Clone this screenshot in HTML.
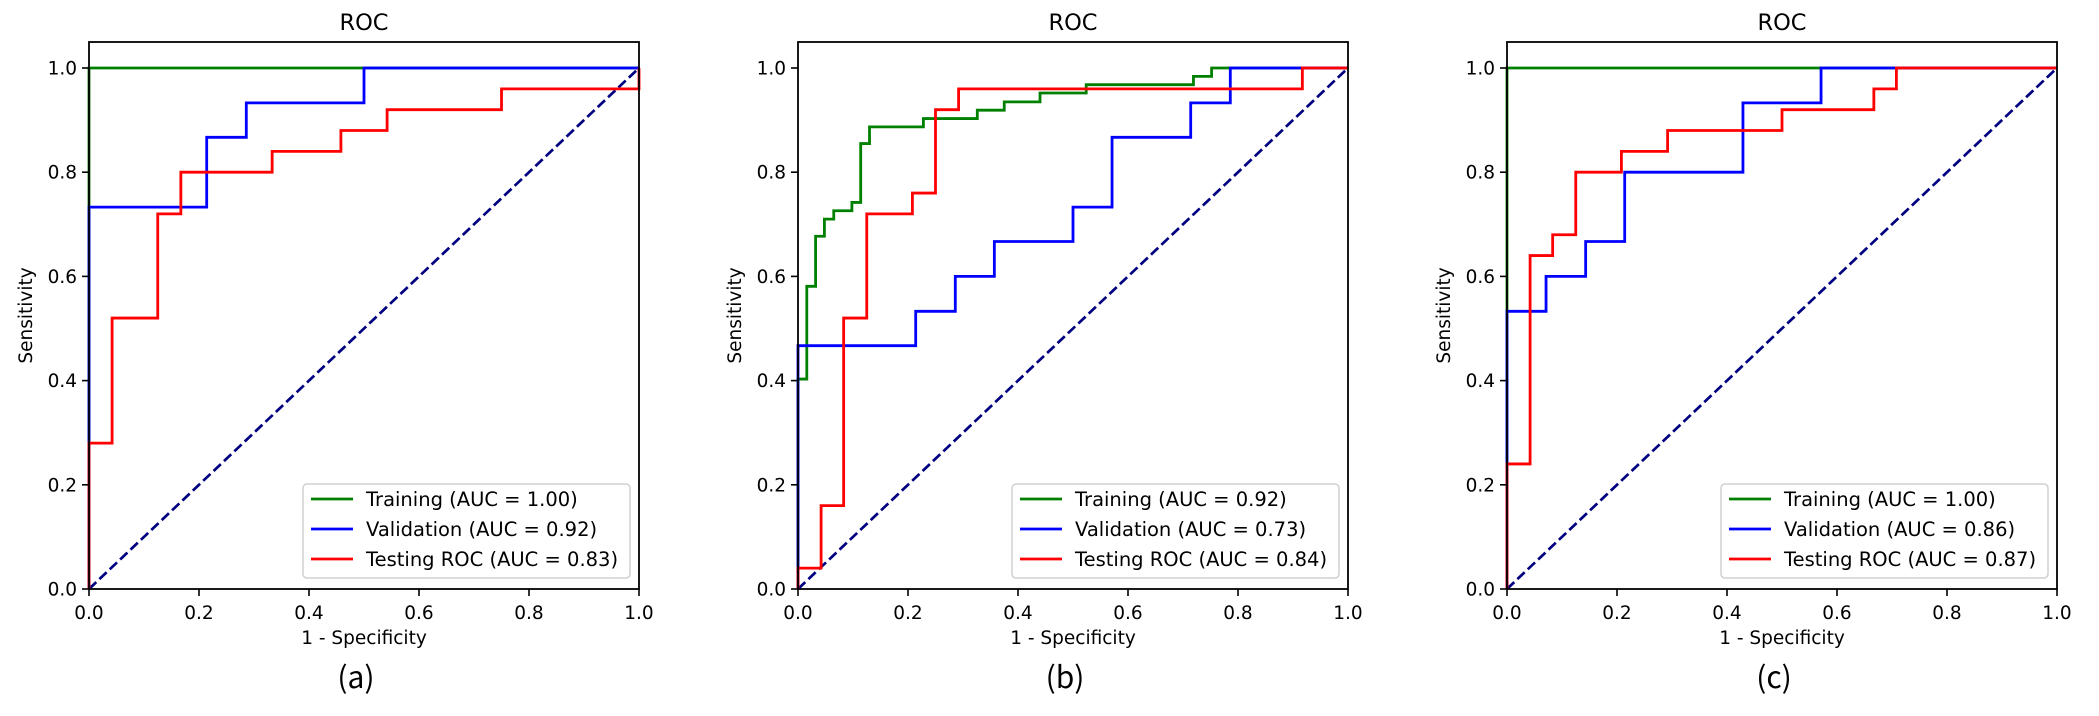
<!DOCTYPE html>
<html><head><meta charset="utf-8"><style>
html,body{margin:0;padding:0;background:#fff;width:2099px;height:716px;overflow:hidden}
svg text{font-family:"DejaVu Sans","Liberation Sans",sans-serif;fill:#000}
</style></head><body>
<svg id="fig" width="2099" height="716" viewBox="0 0 2099 716" xmlns="http://www.w3.org/2000/svg"></svg>
<script>
// ---- data ----
const panelLabels = ["(a)", "(b)", "(c)"];
const tickValues = [0, 0.2, 0.4, 0.6, 0.8, 1.0];
const tickLabels = ["0.0", "0.2", "0.4", "0.6", "0.8", "1.0"];
const seriesNames = ["Training", "Validation", "Testing ROC"];
const aucA = ["1.00", "0.92", "0.83"];
const aucB = ["0.92", "0.73", "0.84"];
const aucC = ["1.00", "0.86", "0.87"];
// panel (a)
const aTrainFpr = [0, 0, 1];
const aTrainTpr = [0, 1, 1];
const aValFpr = [0, 0, 0.214, 0.214, 0.286, 0.286, 0.5, 0.5, 1];
const aValTpr = [0, 0.733, 0.733, 0.867, 0.867, 0.933, 0.933, 1, 1];
const aTestFpr = [0, 0, 0.042, 0.042, 0.125, 0.125, 0.167, 0.167, 0.333, 0.333, 0.458, 0.458, 0.542, 0.542, 0.75, 0.75, 1, 1];
const aTestTpr = [0, 0.28, 0.28, 0.52, 0.52, 0.72, 0.72, 0.80, 0.80, 0.84, 0.84, 0.88, 0.88, 0.92, 0.92, 0.96, 0.96, 1];
// panel (b)
const bTrainFpr = [0, 0, 0.016, 0.016, 0.032, 0.032, 0.048, 0.048, 0.065, 0.065, 0.098, 0.098, 0.114, 0.114, 0.13, 0.13, 0.228, 0.228, 0.326, 0.326, 0.375, 0.375, 0.44, 0.44, 0.524, 0.524, 0.719, 0.719, 0.752, 0.752, 1];
const bTrainTpr = [0, 0.403, 0.403, 0.581, 0.581, 0.677, 0.677, 0.71, 0.71, 0.726, 0.726, 0.742, 0.742, 0.855, 0.855, 0.887, 0.887, 0.903, 0.903, 0.919, 0.919, 0.935, 0.935, 0.952, 0.952, 0.968, 0.968, 0.984, 0.984, 1, 1];
const bValFpr = [0, 0, 0.214, 0.214, 0.286, 0.286, 0.357, 0.357, 0.5, 0.5, 0.571, 0.571, 0.714, 0.714, 0.786, 0.786, 1];
const bValTpr = [0, 0.467, 0.467, 0.533, 0.533, 0.6, 0.6, 0.667, 0.667, 0.733, 0.733, 0.867, 0.867, 0.933, 0.933, 1, 1];
const bTestFpr = [0, 0, 0.042, 0.042, 0.083, 0.083, 0.125, 0.125, 0.208, 0.208, 0.25, 0.25, 0.292, 0.292, 0.917, 0.917, 1];
const bTestTpr = [0, 0.04, 0.04, 0.16, 0.16, 0.52, 0.52, 0.72, 0.72, 0.76, 0.76, 0.92, 0.92, 0.96, 0.96, 1, 1];
// panel (c)
const cTrainFpr = [0, 0, 1];
const cTrainTpr = [0, 1, 1];
const cValFpr = [0, 0, 0.071, 0.071, 0.143, 0.143, 0.214, 0.214, 0.429, 0.429, 0.571, 0.571, 1];
const cValTpr = [0, 0.533, 0.533, 0.6, 0.6, 0.667, 0.667, 0.8, 0.8, 0.933, 0.933, 1, 1];
const cTestFpr = [0, 0, 0.042, 0.042, 0.083, 0.083, 0.125, 0.125, 0.208, 0.208, 0.292, 0.292, 0.5, 0.5, 0.667, 0.667, 0.708, 0.708, 1];
const cTestTpr = [0, 0.24, 0.24, 0.64, 0.64, 0.68, 0.68, 0.80, 0.80, 0.84, 0.84, 0.88, 0.88, 0.92, 0.92, 0.96, 0.96, 1, 1];

const NS = "http://www.w3.org/2000/svg";
const svg = document.getElementById("fig");
const colors = ["#008000", "#0000ff", "#ff0000"];
const panels = [
  {left: 89, key: "a", auc: aucA, series: [[aTrainFpr, aTrainTpr], [aValFpr, aValTpr], [aTestFpr, aTestTpr]]},
  {left: 798, key: "b", auc: aucB, series: [[bTrainFpr, bTrainTpr], [bValFpr, bValTpr], [bTestFpr, bTestTpr]]},
  {left: 1507, key: "c", auc: aucC, series: [[cTrainFpr, cTrainTpr], [cValFpr, cValTpr], [cTestFpr, cTestTpr]]}
];
const W = 550, Y0 = 589, Y1 = 68, TOP = 42;
function mk(tag, attrs, parent) {
  const e = document.createElementNS(NS, tag);
  for (const k in attrs) e.setAttribute(k, attrs[k]);
  (parent || svg).appendChild(e);
  return e;
}
panels.forEach((p, pi) => {
  const xs = v => p.left + v * W;
  const ys = v => Y0 - v * (Y0 - Y1);
  const g = mk("g", {});
  
  
  // title
  const t = mk("text", {x: p.left + W / 2, y: 30, "text-anchor": "middle", "font-size": 22.5}, g);
  t.textContent = "ROC";
  
  
  // chance diagonal
  const d = mk("line", {x1: xs(0), y1: ys(0), x2: xs(1), y2: ys(1), stroke: "#000080", "stroke-width": 2.7, "stroke-dasharray": "10 4.3"}, g);
  
  
  // series
  p.series.forEach((s, si) => {
    const pts = s[0].map((f, i) => xs(f).toFixed(2) + "," + ys(s[1][i]).toFixed(2)).join(" ");
    const pl = mk("polyline", {points: pts, fill: "none", stroke: colors[si], "stroke-width": 2.8, "stroke-linejoin": "miter"}, g);
    
    
  });
  // frame
  const fr = mk("rect", {x: p.left, y: TOP, width: W, height: Y0 - TOP, fill: "none", stroke: "#000", "stroke-width": 1.8}, g);
  
  
  // ticks
  tickValues.forEach((v, i) => {
    mk("line", {x1: xs(v), y1: Y0, x2: xs(v), y2: Y0 + 7, stroke: "#000", "stroke-width": 1.6}, g);
    const xl = mk("text", {x: xs(v), y: Y0 + 30, "text-anchor": "middle", "font-size": 18.5}, g);
    xl.textContent = tickLabels[i];
    
    
    mk("line", {x1: p.left - 7, y1: ys(v), x2: p.left, y2: ys(v), stroke: "#000", "stroke-width": 1.6}, g);
    const yl = mk("text", {x: p.left - 12, y: ys(v) + 6.5, "text-anchor": "end", "font-size": 18.5}, g);
    yl.textContent = tickLabels[i];
    
    
  });
  const xt = mk("text", {x: p.left + W / 2, y: 644, "text-anchor": "middle", "font-size": 18.5}, g);
  xt.textContent = "1 - Specificity";
  
  
  const yt = mk("text", {x: 0, y: 0, "text-anchor": "middle", "font-size": 18.5, transform: "translate(" + (p.left - 57) + "," + ((TOP + Y0) / 2) + ") rotate(-90)"}, g);
  yt.textContent = "Sensitivity";
  
  
  const pl = mk("text", {x: p.left + W / 2 - 8, y: 688, "text-anchor": "middle", "font-size": 30, style: 'font-family:"Noto Sans CJK SC","DejaVu Sans",sans-serif'}, g);
  pl.textContent = panelLabels[pi];
  
  
  // legend
  const lg = mk("g", {}, g);
  
  
  const bx = p.left + W - 9 - 327;
  mk("rect", {x: bx, y: 484, width: 327, height: 94, rx: 4, fill: "#fff", "fill-opacity": 0.8, stroke: "#d0d0d0", "stroke-width": 1.5}, lg);
  seriesNames.forEach((n, si) => {
    const ry = 499 + si * 30;
    const e = mk("g", {}, lg);
    
    
    mk("line", {x1: bx + 8, y1: ry, x2: bx + 50, y2: ry, stroke: colors[si], "stroke-width": 2.8}, e);
    const tx = mk("text", {x: bx + 63, y: ry + 7, "font-size": 19.5}, e);
    tx.textContent = n + " (AUC = " + p.auc[si] + ")";
  });
});
</script>
</body></html>
